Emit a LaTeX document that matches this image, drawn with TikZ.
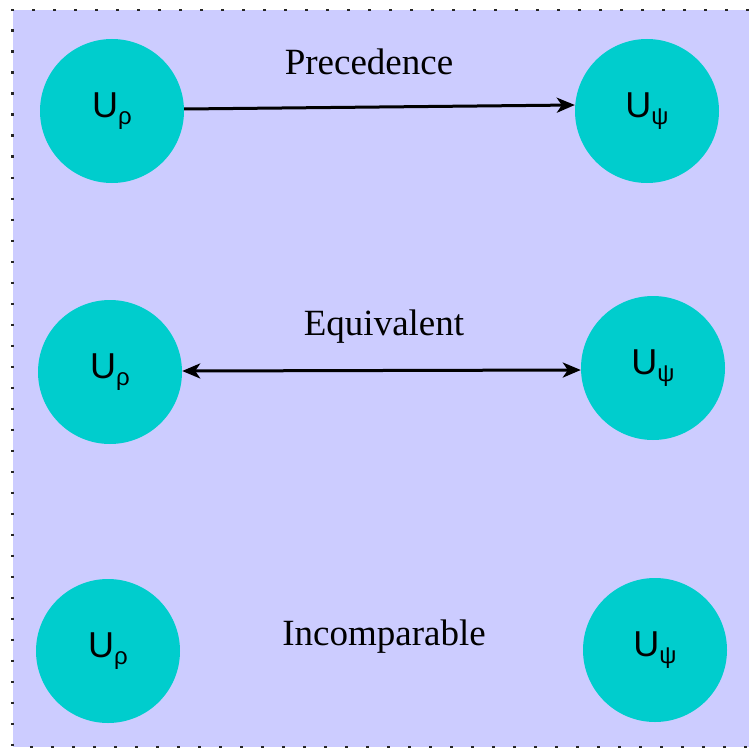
\documentclass[tikz,border=0pt]{standalone}
\usepackage{fontspec}
\setmainfont{Liberation Serif}
\newfontfamily\circfont{Liberation Sans}
\usetikzlibrary{arrows.meta}
\definecolor{lav}{HTML}{CCCCFF}
\definecolor{tealc}{HTML}{00CDCD}
\tikzset{
  circ/.style={circle, fill=tealc, minimum size=144pt, inner sep=0pt, font=\circfont\fontsize{36}{36}\selectfont},
  lbl/.style={anchor=base, inner sep=0pt, font=\fontsize{37}{37}\selectfont},
  conn/.style={line width=3pt, black},
  border/.style={line width=2.6pt, dash pattern=on 2.6pt off 18.4pt, black!85}
}
\newcommand{\subr}{\raisebox{-7pt}{\fontsize{24}{24}\selectfont ρ}}
\newcommand{\subp}{\raisebox{-7pt}{\fontsize{24}{24}\selectfont ψ}}
\begin{document}
\begin{tikzpicture}[x=1pt, y=-1pt]
\clip (0,0) rectangle (749,749);
\useasboundingbox (0,0) rectangle (749,749);
\fill[lav] (12.5,10) rectangle (770,747);
\draw[border] (770,10) -- (12.5,10) -- (12.5,747) -- (770,747);

\node[circ] (a1) at (112,111) {U\subr};
\node[circ] (b1) at (647,111) {U\subp};
\node[circ] (a2) at (110,372) {U\subr};
\node[circ] (b2) at (653,368) {U\subp};
\node[circ] (a3) at (108,651) {U\subr};
\node[circ] (b3) at (655,650) {U\subp};

\node[lbl] (t1) at (369,75) {Precedence};
\node[lbl] (t2) at (384,335) {Equivalent};
\node[lbl] (t3) at (384,645) {Incomparable};

\draw[conn, -{Stealth[length=18pt, width=15pt, inset=5pt]}] ([yshift=2pt]a1.east) -- ([yshift=6pt]b1.west);
\draw[conn, {Stealth[length=18pt, width=15pt, inset=5pt]}-{Stealth[length=18pt, width=15pt, inset=5pt]}] ([yshift=1pt]a2.east) -- ([yshift=-2pt]b2.west);
\end{tikzpicture}
\end{document}
